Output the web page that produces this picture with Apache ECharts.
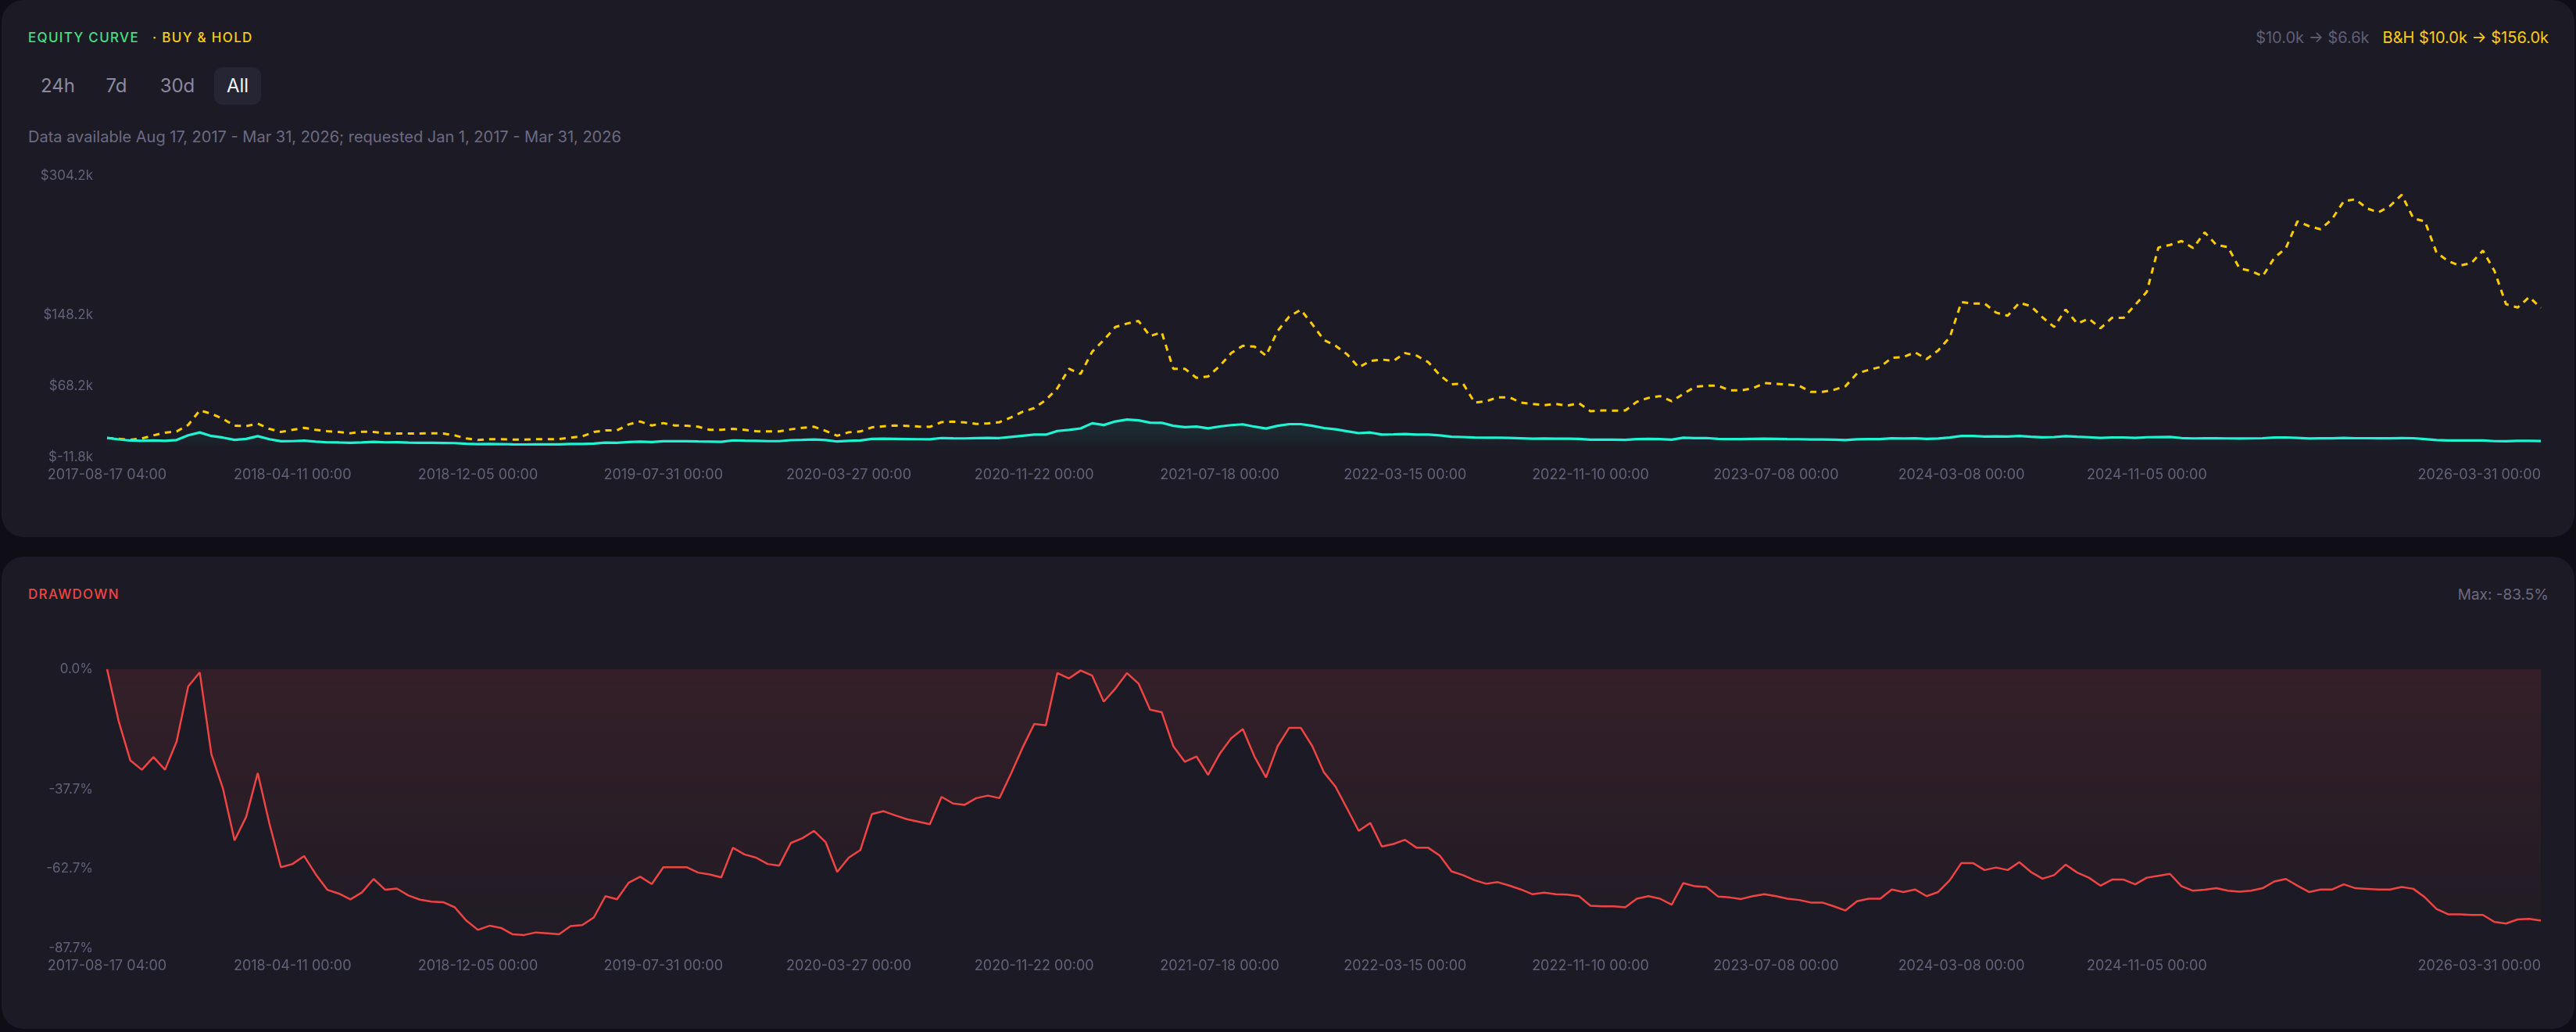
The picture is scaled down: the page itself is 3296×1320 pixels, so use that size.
<!DOCTYPE html>
<html>
<head>
<meta charset="utf-8">
<script src="https://cdn.jsdelivr.net/npm/echarts@6/dist/echarts.min.js"></script>
<style>
html,body{margin:0;padding:0;background:#0f0e17;width:3296px;height:1320px;overflow:hidden;font-family:Inter,'Noto Sans',sans-serif;}
.card{position:absolute;left:2px;width:3292px;background:#1c1b25;border-radius:28px;}
#card1{top:0;height:687px;}
#card2{top:712px;height:604px;}
.t{position:absolute;white-space:nowrap;line-height:1;transform:translateY(-50%);}
.btn{position:absolute;top:86px;height:48px;line-height:48px;font-size:24px;color:#8a89a0;text-align:center;}
#chart{position:absolute;left:0;top:0;width:3296px;height:1320px;}
</style>
</head>
<body>
<div class="card" id="card1"></div>
<div class="card" id="card2"></div>

<div class="t" style="left:36px;top:48px;font-size:17px;letter-spacing:1.3px;color:#4ade80;font-weight:500;">EQUITY CURVE</div>
<div class="t" style="left:195px;top:48px;font-size:17px;letter-spacing:1.3px;color:#facc15;font-weight:500;">· BUY &amp; HOLD</div>

<div class="btn" style="left:44px;width:60px;">24h</div>
<div class="btn" style="left:121px;width:56px;">7d</div>
<div class="btn" style="left:196px;width:62px;">30d</div>
<div class="btn" style="left:274px;width:60px;background:#262534;border-radius:10px;color:#f2f2f7;">All</div>

<div class="t" style="left:36px;top:175px;font-size:20px;color:#6b6a82;">Data available Aug 17, 2017 - Mar 31, 2026; requested Jan 1, 2017 - Mar 31, 2026</div>

<div class="t" style="right:35px;top:48px;font-size:20px;display:flex;gap:17px;">
  <span style="color:#5f5e75;">$10.0k → $6.6k</span>
  <span style="color:#facc15;">B&amp;H $10.0k → $156.0k</span>
</div>

<div class="t" style="left:36px;top:760px;font-size:17px;letter-spacing:1.3px;color:#ef4444;font-weight:500;">DRAWDOWN</div>
<div class="t" style="right:35px;top:760px;font-size:19px;color:#6b6a82;">Max: -83.5%</div>

<div id="chart"></div>

<script>
// ---- Data ----
const labelDates = ['2017-08-17 04:00','2018-04-11 00:00','2018-12-05 00:00','2019-07-31 00:00','2020-03-27 00:00','2020-11-22 00:00','2021-07-18 00:00','2022-03-15 00:00','2022-11-10 00:00','2023-07-08 00:00','2024-03-08 00:00','2024-11-05 00:00','2026-03-31 00:00'];
const segmentSteps = [16,16,16,16,16,16,16,16,16,16,16,34];

// strategy equity, $k
const equityValues = [
10.0,8.4,7.1,6.8,7.2,6.8,7.7,13.0,16.2,12.2,
10.4,7.9,8.9,12.0,8.6,6.3,6.4,6.9,5.9,5.1,
4.9,4.6,5.0,5.7,5.1,5.2,4.8,4.6,4.5,4.4,
4.2,3.5,3.0,3.2,3.1,2.8,2.7,2.9,2.8,2.8,
3.2,3.3,3.7,4.8,4.6,5.5,5.8,5.4,6.3,6.3,
6.3,6.0,5.9,5.7,7.3,6.9,6.8,6.4,6.4,7.5,
7.8,8.2,7.6,6.0,6.8,7.2,9.0,9.2,9.0,8.8,
8.6,8.5,9.9,9.6,9.5,9.9,10.0,9.9,11.2,12.5,
13.7,13.7,17.8,19.0,20.7,26.5,24.5,28.5,30.6,29.8,
27.2,27.0,23.6,22.1,22.7,20.8,22.9,24.4,25.3,22.7,
20.6,23.6,25.5,25.5,23.6,21.1,19.7,17.5,15.4,16.1,
13.8,14.1,14.5,13.7,13.7,12.9,11.4,11.0,10.5,10.2,
10.3,10.0,9.6,9.1,9.3,9.1,9.1,9.0,8.0,8.0,
8.0,7.9,8.7,9.0,8.7,8.1,10.2,9.9,9.9,8.9,
8.8,8.7,9.0,9.1,9.0,8.7,8.6,8.3,8.3,8.0,
7.6,8.5,8.7,8.7,9.6,9.4,9.6,9.0,9.4,10.5,
12.2,12.2,11.5,11.8,11.5,12.3,11.3,10.7,11.0,12.0,
11.3,10.8,10.0,10.6,10.6,10.1,10.8,11.0,11.1,9.9,
9.5,9.6,9.7,9.5,9.4,9.5,9.7,10.4,10.6,10.0,
9.4,9.6,9.6,10.1,9.7,9.7,9.6,9.6,9.9,9.7,
8.8,7.7,7.2,7.2,7.1,7.1,6.4,6.3,6.7,6.7,
6.6
];

// buy & hold, $k
const buyHoldValues = [
10.0,9.1,8.0,9.4,12.9,15.9,17.3,24.6,41.0,37.2,
31.4,23.8,23.2,26.1,20.2,16.7,19.1,21.4,19.1,17.6,
16.7,15.3,17.0,16.7,15.3,15.0,15.0,15.0,15.3,15.0,
12.9,9.4,7.7,8.5,8.5,8.2,8.2,8.5,8.5,8.8,
10.3,11.8,16.7,18.5,18.5,25.2,28.5,24.0,26.7,24.0,
23.8,22.6,19.1,19.1,20.2,19.1,17.6,17.3,17.3,19.7,
21.4,22.6,17.9,12.5,16.4,17.3,21.9,23.1,23.9,23.6,
22.8,22.5,27.7,28.3,27.5,25.7,26.3,27.7,33.0,39.4,
43.5,52.6,65.8,87.7,81.9,106.8,119.9,134.6,138.4,141.3,
124.3,128.7,87.7,87.7,77.5,79.0,90.7,105.3,113.5,112.6,
102.4,130.1,146.2,154.0,137.5,119.9,113.5,103.9,89.2,96.5,
98.0,96.5,105.3,102.4,95.1,80.4,70.2,71.1,49.7,51.2,
55.6,55.6,49.7,48.2,46.8,48.2,46.2,49.1,40.0,40.9,
40.6,40.9,50.6,55.0,57.0,51.2,59.4,67.3,68.7,68.7,
63.4,63.4,65.8,71.6,70.7,69.9,68.7,61.7,61.7,64.0,
68.1,82.5,86.3,89.7,100.0,100.9,106.2,98.6,108.3,122.9,
162.5,161.0,161.0,150.7,147.2,161.8,158.0,145.4,134.6,154.2,
138.4,144.0,133.1,144.9,144.9,159.4,174.1,223.8,226.7,231.1,
223.2,240.8,226.7,224.4,200.4,197.5,191.6,212.1,223.2,253.1,
247.8,244.3,256.0,275.9,278.0,267.7,263.3,270.6,283.0,256.6,
253.1,218.0,208.6,203.4,206.3,220.3,197.5,160.1,156.5,168.2,
156.0
];

// drawdown, %
const drawdownValues = [
0,-16.3,-28.6,-31.6,-27.6,-31.6,-22.7,-5.4,-1.0,-26.7,
-37.5,-53.8,-46.4,-32.6,-48.4,-62.2,-61.2,-58.7,-64.4,-69.3,
-70.5,-72.3,-70.1,-65.9,-69.3,-68.9,-71.1,-72.4,-73.0,-73.2,
-74.8,-79.0,-81.9,-80.6,-81.3,-83.3,-83.5,-82.7,-83.0,-83.3,
-80.7,-80.4,-78.0,-71.3,-72.3,-67.1,-65.2,-67.5,-62.2,-62.2,
-62.2,-63.9,-64.5,-65.4,-56.1,-58.2,-59.2,-61.2,-61.7,-54.6,
-53.1,-50.8,-54.3,-63.7,-59.2,-56.8,-45.5,-44.6,-45.9,-47.1,
-47.9,-48.7,-40.1,-42.2,-42.6,-40.5,-39.7,-40.5,-32.8,-24.6,
-17.2,-17.6,-1.2,-2.9,-0.4,-2.0,-10.2,-6.1,-1.2,-4.5,
-12.7,-13.5,-24.2,-29.1,-27.4,-33.2,-26.6,-21.7,-18.8,-27.4,
-34.0,-24.2,-18.4,-18.4,-24.2,-32.4,-36.9,-43.8,-50.8,-48.3,
-55.7,-54.9,-53.6,-56.1,-56.1,-58.6,-63.5,-64.7,-66.3,-67.4,
-66.9,-68.0,-69.2,-70.7,-70.2,-70.7,-70.8,-71.3,-74.3,-74.5,
-74.5,-74.8,-72.1,-71.3,-72.1,-74.0,-67.2,-68.2,-68.4,-71.4,
-71.7,-72.2,-71.3,-70.7,-71.3,-72.1,-72.5,-73.3,-73.3,-74.5,
-75.8,-72.9,-72.1,-72.1,-69.2,-70.0,-69.2,-71.3,-70.0,-66.3,
-60.9,-60.9,-63.1,-62.3,-63.1,-60.6,-63.7,-65.8,-64.7,-61.4,
-63.9,-65.5,-68.0,-66.1,-66.1,-67.6,-65.5,-64.9,-64.3,-68.2,
-69.6,-69.3,-68.8,-69.6,-69.9,-69.6,-68.8,-66.7,-65.9,-68.0,
-70.0,-69.2,-69.2,-67.6,-68.8,-69.0,-69.2,-69.2,-68.4,-69.0,
-71.7,-75.3,-77.0,-77.0,-77.2,-77.2,-79.4,-79.9,-78.6,-78.4,
-79.0
];

const equityTicks = [-11.8, 68.2, 148.2, 304.2];
const drawdownTicks = [-87.7, -62.7, -37.7, 0];

// ---- build category list (dates between the labelled dates) ----
function pad(n){return n<10?'0'+n:''+n;}
function parseD(s){const [d,t]=s.split(' ');const [y,m,dd]=d.split('-').map(Number);const [hh,mi]=t.split(':').map(Number);return Date.UTC(y,m-1,dd,hh,mi);}
function fmt(ms){const d=new Date(ms);return d.getUTCFullYear()+'-'+pad(d.getUTCMonth()+1)+'-'+pad(d.getUTCDate())+' 00:00';}
const categories = [];
for (let i=0;i<segmentSteps.length;i++){
  const a=parseD(labelDates[i]), b=parseD(labelDates[i+1]);
  for (let s=0;s<segmentSteps[i];s++){
    categories.push(s===0?labelDates[i]:fmt(a+(b-a)*s/segmentSteps[i]));
  }
}
categories.push(labelDates[labelDates.length-1]);
const labelSet = new Set(labelDates);

const axisLabelColor = '#62617a';
const font = 'Inter';

function xAxisDef(gridIndex){
  return {
    type:'category', gridIndex, data:categories, boundaryGap:false,
    axisLine:{show:false}, axisTick:{show:false}, splitLine:{show:false},
    axisLabel:{
      color:axisLabelColor, fontSize:18, fontFamily:font, margin:14,
      interval:(idx,val)=>labelSet.has(val),
      showMinLabel:true, showMaxLabel:true, alignMaxLabel:'right', hideOverlap:false
    }
  };
}

const chart = echarts.init(document.getElementById('chart'), null, {renderer:'canvas'});
chart.setOption({
  animation:false,
  backgroundColor:'transparent',
  grid:[
    {left:137, right:45, top:225, height:360},
    {left:137, right:45, top:856, height:357}
  ],
  xAxis:[xAxisDef(0), xAxisDef(1)],
  yAxis:[
    {type:'value', gridIndex:0, min:-11.8, max:304.2,
     axisLine:{show:false}, axisTick:{show:false}, splitLine:{show:false},
     axisLabel:{customValues:equityTicks, color:axisLabelColor, fontSize:17, fontFamily:font, margin:18,
       formatter:v=>'$'+v.toFixed(1)+'k'}},
    {type:'value', gridIndex:1, min:-87.7, max:0,
     axisLine:{show:false}, axisTick:{show:false}, splitLine:{show:false},
     axisLabel:{customValues:drawdownTicks, color:axisLabelColor, fontSize:17, fontFamily:font, margin:18,
       formatter:v=>(Math.abs(v)<1e-9?0:v).toFixed(1)+'%'}}
  ],
  series:[
    {name:'Buy & Hold', type:'line', xAxisIndex:0, yAxisIndex:0, data:buyHoldValues,
     showSymbol:false, symbol:'none', z:2,
     lineStyle:{color:'#fccb00', width:3, type:[8,7]}},
    {name:'Equity', type:'line', xAxisIndex:0, yAxisIndex:0, data:equityValues,
     showSymbol:false, symbol:'none', z:3,
     lineStyle:{color:'#20f2d2', width:3.2},
     areaStyle:{color:new echarts.graphic.LinearGradient(0,0,0,1,[
       {offset:0,color:'rgba(32,242,210,0.15)'},{offset:1,color:'rgba(32,242,210,0.01)'}])}},
    {name:'Drawdown', type:'line', xAxisIndex:1, yAxisIndex:1, data:drawdownValues,
     showSymbol:false, symbol:'none', z:3,
     lineStyle:{color:'#ef4444', width:2.5},
     areaStyle:{color:new echarts.graphic.LinearGradient(0,0,0,1,[
       {offset:0,color:'rgba(239,68,68,0.17)'},{offset:1,color:'rgba(239,68,68,0.03)'}])}}
  ]
});
</script>
</body>
</html>
